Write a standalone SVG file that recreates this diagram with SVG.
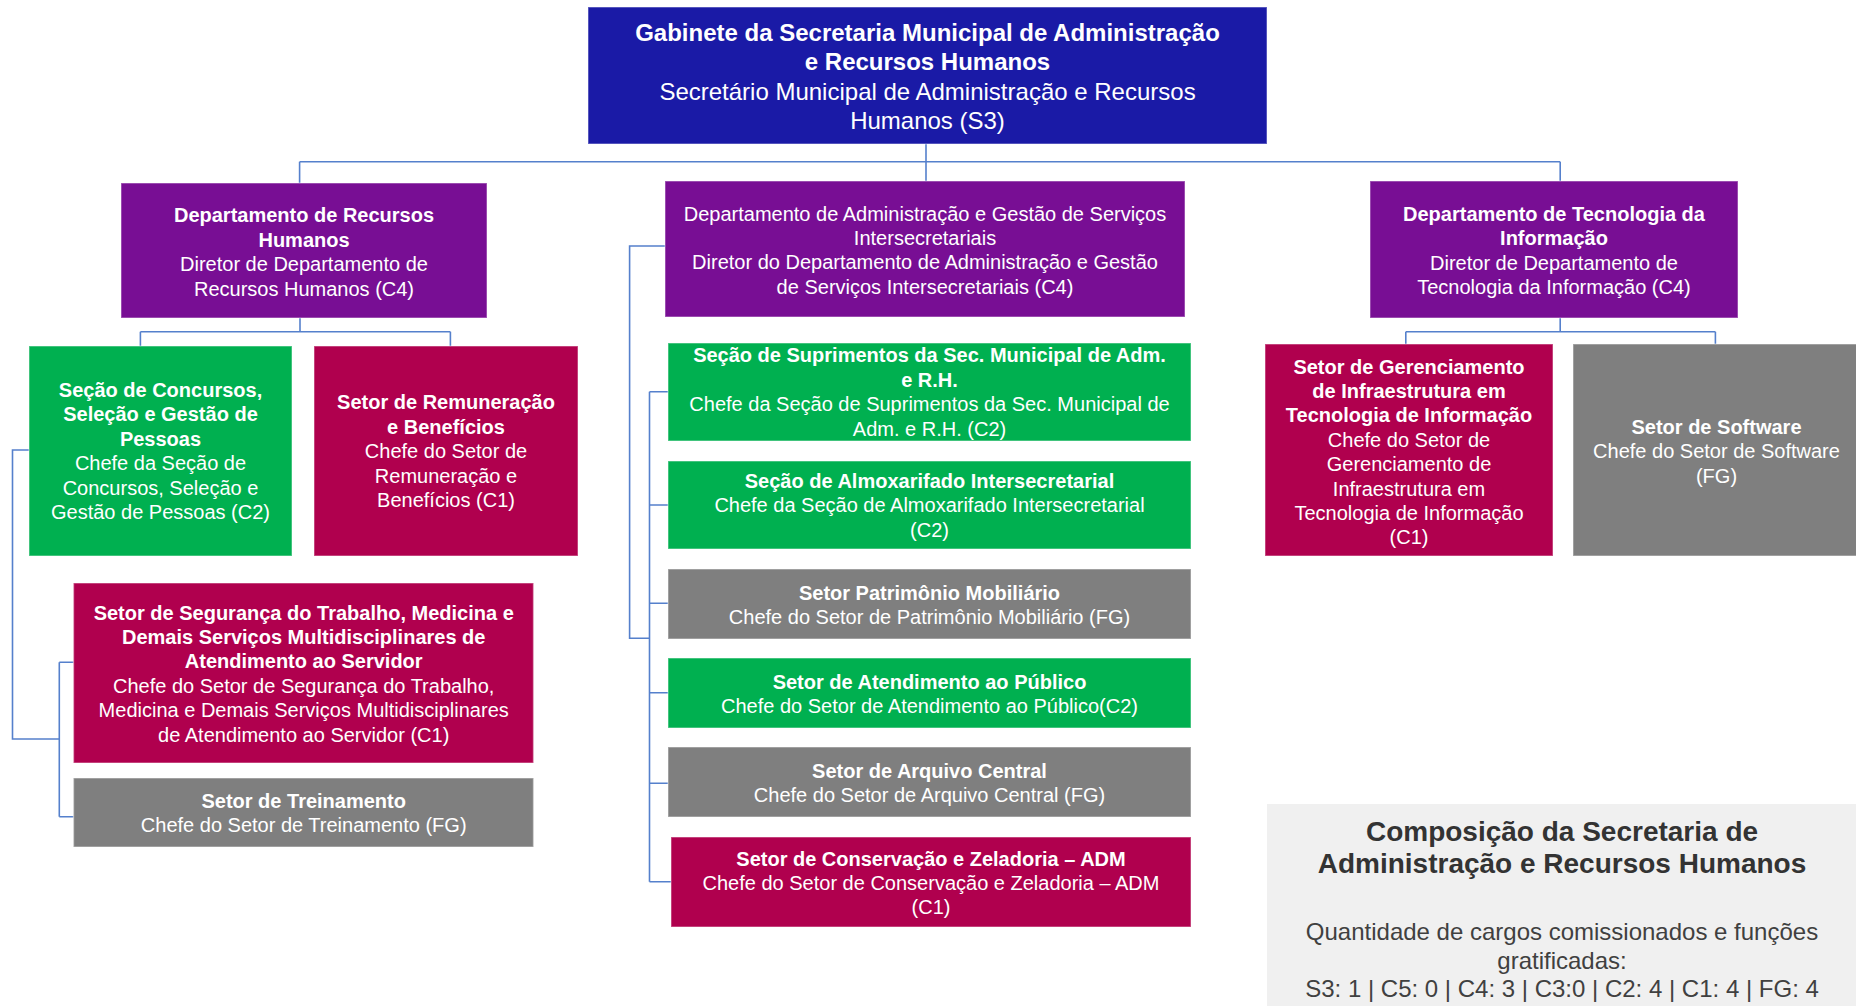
<svg xmlns="http://www.w3.org/2000/svg" width="1856" height="1006" viewBox="0 0 1856 1006">
<style>
text{font-family:"Liberation Sans",Arial,sans-serif;text-anchor:middle;fill:#ffffff}
.t{font-size:24px}
.s{font-size:20px}
.b{font-weight:bold}
rect.n{stroke:#ffffff;stroke-opacity:0.35;stroke-width:1.5}
.blue{fill:#1a1aa6}
.purple{fill:#780e94}
.green{fill:#00b050}
.red{fill:#b0004e}
.gray{fill:#7f7f7f}
.conn{fill:none;stroke:#5580cc;stroke-width:1.6}
.lt{fill:#333333;font-size:28px;font-weight:bold}
.lb{fill:#404040;font-size:24px}
</style>
<rect width="1856" height="1006" fill="#ffffff"/>
<g id="connectors" class="conn">
<path d="M926 144V161.7M299.6 161.7H1560.2M299.6 161.7V183M926 161.7V181M1560.2 161.7V181"/>
<path d="M300 318V331.7M140.4 331.7H450.4M140.4 331.7V346M450.4 331.7V346"/>
<path d="M29 450H12.5V739H59.3M59.3 662.3V816.7M59.3 662.3H73.5M59.3 816.7H73.5"/>
<path d="M665 246H629.6V638.3H649.5M649.5 391.7V881.7M649.5 391.7H668M649.5 505H668M649.5 603.3H668M649.5 692.7H668M649.5 783.3H668M649.5 881.7H671"/>
<path d="M1560.2 318V331.7M1405.8 331.7H1715.4M1405.8 331.7V344M1715.4 331.7V344"/>
</g>
<g id="gabinete">
<rect class="n blue" x="588" y="7" width="679" height="137"/>
<text class="t b" x="927.5" y="40.5">Gabinete da Secretaria Municipal de Administração</text>
<text class="t b" x="927.5" y="69.5">e Recursos Humanos</text>
<text class="t" x="927.5" y="99.5">Secretário Municipal de Administração e Recursos</text>
<text class="t" x="927.5" y="128.5">Humanos (S3)</text>
</g>
<g id="dept-rh">
<rect class="n purple" x="121" y="183" width="366" height="135"/>
<text class="s b" x="304" y="222.3">Departamento de Recursos</text>
<text class="s b" x="304" y="246.7">Humanos</text>
<text class="s" x="304" y="271.1">Diretor de Departamento de</text>
<text class="s" x="304" y="295.5">Recursos Humanos (C4)</text>
</g>
<g id="dept-adm">
<rect class="n purple" x="665" y="181" width="520" height="136"/>
<text class="s" x="925" y="220.6">Departamento de Administração e Gestão de Serviços</text>
<text class="s" x="925" y="245">Intersecretariais</text>
<text class="s" x="925" y="269.4">Diretor do Departamento de Administração e Gestão</text>
<text class="s" x="925" y="293.8">de Serviços Intersecretariais (C4)</text>
</g>
<g id="dept-ti">
<rect class="n purple" x="1370" y="181" width="368" height="137"/>
<text class="s b" x="1554" y="221">Departamento de Tecnologia da</text>
<text class="s b" x="1554" y="245.4">Informação</text>
<text class="s" x="1554" y="269.8">Diretor de Departamento de</text>
<text class="s" x="1554" y="294.2">Tecnologia da Informação (C4)</text>
</g>
<g id="secao-concursos">
<rect class="n green" x="29" y="346" width="263" height="210"/>
<text class="s b" x="160.5" y="397">Seção de Concursos,</text>
<text class="s b" x="160.5" y="421.4">Seleção e Gestão de</text>
<text class="s b" x="160.5" y="445.8">Pessoas</text>
<text class="s" x="160.5" y="470.2">Chefe da Seção de</text>
<text class="s" x="160.5" y="494.6">Concursos, Seleção e</text>
<text class="s" x="160.5" y="519">Gestão de Pessoas (C2)</text>
</g>
<g id="setor-remuneracao">
<rect class="n red" x="314" y="346" width="264" height="210"/>
<text class="s b" x="446" y="409.4">Setor de Remuneração</text>
<text class="s b" x="446" y="433.8">e Benefícios</text>
<text class="s" x="446" y="458.2">Chefe do Setor de</text>
<text class="s" x="446" y="482.6">Remuneração e</text>
<text class="s" x="446" y="507">Benefícios (C1)</text>
</g>
<g id="setor-seguranca">
<rect class="n red" x="73.5" y="583" width="460" height="180"/>
<text class="s b" x="303.7" y="619.5">Setor de Segurança do Trabalho, Medicina e</text>
<text class="s b" x="303.7" y="643.9">Demais Serviços Multidisciplinares de</text>
<text class="s b" x="303.7" y="668.3">Atendimento ao Servidor</text>
<text class="s" x="303.7" y="692.7">Chefe do Setor de Segurança do Trabalho,</text>
<text class="s" x="303.7" y="717.1">Medicina e Demais Serviços Multidisciplinares</text>
<text class="s" x="303.7" y="741.5">de Atendimento ao Servidor (C1)</text>
</g>
<g id="setor-treinamento">
<rect class="n gray" x="73.5" y="778" width="460" height="69"/>
<text class="s b" x="303.7" y="808">Setor de Treinamento</text>
<text class="s" x="303.7" y="832.4">Chefe do Setor de Treinamento (FG)</text>
</g>
<g id="secao-suprimentos">
<rect class="n green" x="668" y="343" width="523" height="98"/>
<text class="s b" x="929.5" y="362.2">Seção de Suprimentos da Sec. Municipal de Adm.</text>
<text class="s b" x="929.5" y="386.8">e R.H.</text>
<text class="s" x="929.5" y="411.4">Chefe da Seção de Suprimentos da Sec. Municipal de</text>
<text class="s" x="929.5" y="436">Adm. e R.H. (C2)</text>
</g>
<g id="secao-almoxarifado">
<rect class="n green" x="668" y="461" width="523" height="88"/>
<text class="s b" x="929.5" y="487.9">Seção de Almoxarifado Intersecretarial</text>
<text class="s" x="929.5" y="512.2">Chefe da Seção de Almoxarifado Intersecretarial</text>
<text class="s" x="929.5" y="536.5">(C2)</text>
</g>
<g id="setor-patrimonio">
<rect class="n gray" x="668" y="569" width="523" height="70"/>
<text class="s b" x="929.5" y="600">Setor Patrimônio Mobiliário</text>
<text class="s" x="929.5" y="624.4">Chefe do Setor de Patrimônio Mobiliário (FG)</text>
</g>
<g id="setor-atendimento">
<rect class="n green" x="668" y="658" width="523" height="70"/>
<text class="s b" x="929.5" y="688.9">Setor de Atendimento ao Público</text>
<text class="s" x="929.5" y="713.3">Chefe do Setor de Atendimento ao Público(C2)</text>
</g>
<g id="setor-arquivo">
<rect class="n gray" x="668" y="747" width="523" height="70"/>
<text class="s b" x="929.5" y="777.7">Setor de Arquivo Central</text>
<text class="s" x="929.5" y="802.1">Chefe do Setor de Arquivo Central (FG)</text>
</g>
<g id="setor-conservacao">
<rect class="n red" x="671" y="837" width="520" height="90"/>
<text class="s b" x="931" y="865.5">Setor de Conservação e Zeladoria – ADM</text>
<text class="s" x="931" y="889.9">Chefe do Setor de Conservação e Zeladoria – ADM</text>
<text class="s" x="931" y="914.3">(C1)</text>
</g>
<g id="setor-gerenciamento">
<rect class="n red" x="1265" y="344" width="288" height="212"/>
<text class="s b" x="1409" y="373.5">Setor de Gerenciamento</text>
<text class="s b" x="1409" y="397.9">de Infraestrutura em</text>
<text class="s b" x="1409" y="422.3">Tecnologia de Informação</text>
<text class="s" x="1409" y="446.7">Chefe do Setor de</text>
<text class="s" x="1409" y="471.1">Gerenciamento de</text>
<text class="s" x="1409" y="495.5">Infraestrutura em</text>
<text class="s" x="1409" y="519.9">Tecnologia de Informação</text>
<text class="s" x="1409" y="544.3">(C1)</text>
</g>
<g id="setor-software">
<rect class="n gray" x="1573" y="344" width="290" height="212"/>
<text class="s b" x="1716.5" y="433.9">Setor de Software</text>
<text class="s" x="1716.5" y="458.3">Chefe do Setor de Software</text>
<text class="s" x="1716.5" y="482.7">(FG)</text>
</g>
<g id="legenda">
<rect x="1267" y="804" width="592" height="205" fill="#f0f0f0"/>
<text class="lt" x="1562" y="841">Composição da Secretaria de</text>
<text class="lt" x="1562" y="873">Administração e Recursos Humanos</text>
<text class="lb" x="1562" y="940">Quantidade de cargos comissionados e funções</text>
<text class="lb" x="1562" y="968.6">gratificadas:</text>
<text class="lb" x="1562" y="997">S3: 1 | C5: 0 | C4: 3 | C3:0 | C2: 4 | C1: 4 | FG: 4</text>
</g>
</svg>
